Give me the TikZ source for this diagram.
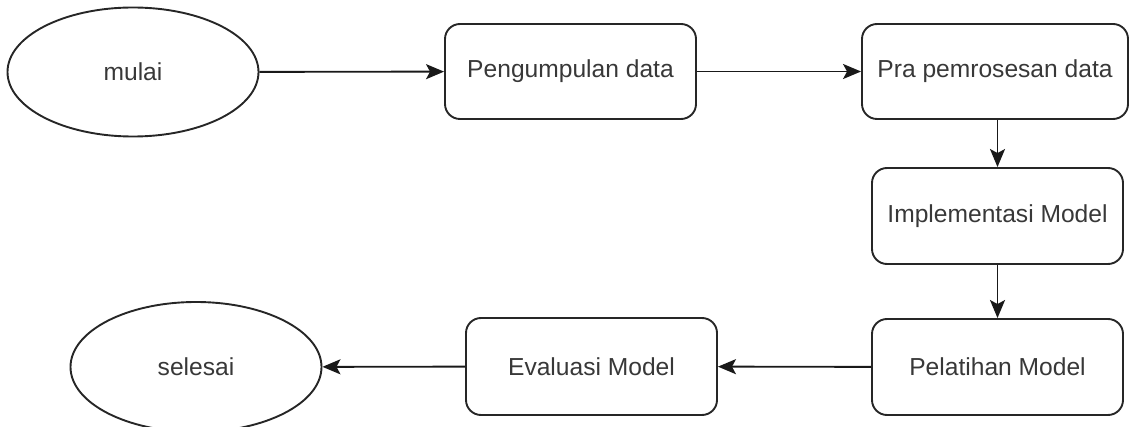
\documentclass[tikz,border=0pt]{standalone}
\usepackage{fontspec}
\setmainfont{Liberation Sans}
\usetikzlibrary{shapes.geometric,arrows.meta}
\definecolor{txt}{HTML}{383838}
\tikzset{
  base/.style={draw=black!85, line width=1.9pt, inner sep=0pt, text=txt,
    font=\fontsize{24.6}{29}\selectfont},
  term/.style={base, ellipse},
  proc/.style={base, rectangle, rounded corners=15pt},
  flow/.style={draw=black!90, line width=1.9pt, -{Stealth[length=18pt,width=15pt,inset=4pt]}}
}
\begin{document}
\begin{tikzpicture}[x=1pt,y=-1pt]
\useasboundingbox (0,0) rectangle (1129,427);
\node[term, minimum width=251pt, minimum height=129pt] (mulai) at (133,72) {mulai};
\node[proc, minimum width=251pt, minimum height=95pt] (peng) at (570.5,71.5) {Pengumpulan data};
\node[proc, minimum width=266pt, minimum height=95pt] (pra) at (995,71.5) {Pra pemrosesan data};
\node[proc, minimum width=251pt, minimum height=96pt] (impl) at (997.5,216) {Implementasi Model};
\node[proc, minimum width=251pt, minimum height=96pt] (pel) at (997.5,367) {Pelatihan Model};
\node[proc, minimum width=251pt, minimum height=97pt] (eval) at (591.5,366.5) {Evaluasi Model};
\node[term, minimum width=251pt, minimum height=130pt] (sel) at (196,367) {selesai};
\draw[flow] (mulai) -- (peng);
\draw[flow] (peng) -- (pra);
\draw[flow] (pra.south -| impl.north) -- (impl.north);
\draw[flow] (impl) -- (pel);
\draw[flow] (pel) -- (eval);
\draw[flow] (eval) -- (sel);
\end{tikzpicture}
\end{document}
